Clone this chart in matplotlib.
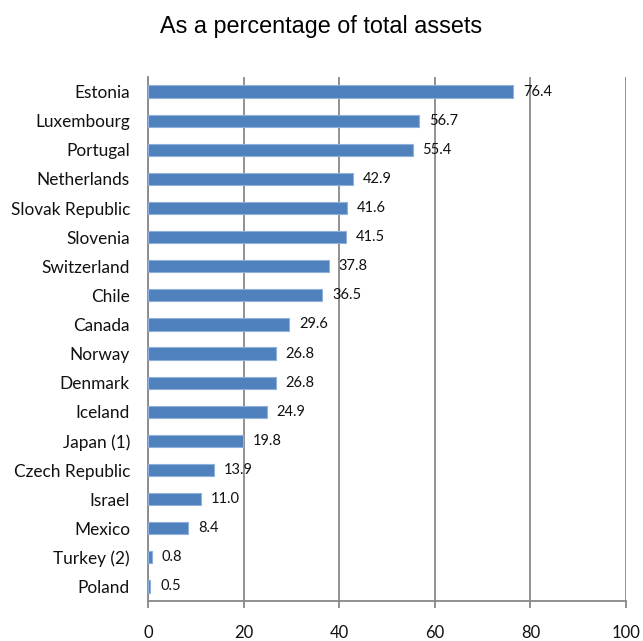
import matplotlib
matplotlib.use("Agg")
import matplotlib.pyplot as plt

countries = ["Estonia", "Luxembourg", "Portugal", "Netherlands", "Slovak Republic",
             "Slovenia", "Switzerland", "Chile", "Canada", "Norway", "Denmark",
             "Iceland", "Japan (1)", "Czech Republic", "Israel", "Mexico",
             "Turkey (2)", "Poland"]
values = [76.4, 56.7, 55.4, 42.9, 41.6, 41.5, 37.8, 36.5, 29.6, 26.8, 26.8,
          24.9, 19.8, 13.9, 11.0, 8.4, 0.8, 0.5]
xticks = [0, 20, 40, 60, 80, 100]
title = "As a percentage of total assets"

fig = plt.figure(figsize=(6.43, 6.41), dpi=100)
ax = fig.add_axes([148 / 643, 1 - 601 / 641, 478 / 643, 524 / 641])

pos = list(range(len(countries)))
ax.barh(pos, values, height=0.42, color="#4F81BD", edgecolor="#8FB0DA",
        linewidth=0.8, zorder=3)
ax.set_ylim(len(countries) - 0.5, -0.5)
ax.set_xlim(0, 100)

ax.set_yticks(pos)
ax.set_yticklabels(countries, fontfamily="Lato", fontsize=12.4, color="#111111")
ax.tick_params(axis="y", length=0, pad=13)

ax.set_xticks(xticks)
ax.set_xticklabels([str(t) for t in xticks], fontfamily="Lato", fontsize=12,
                   color="#111111")
ax.tick_params(axis="x", length=5, width=1.3, color="#888888", pad=12)

ax.grid(axis="x", color="#888888", linewidth=1.3, zorder=0)
ax.grid(axis="y", visible=False)
for side in ("top", "right"):
    ax.spines[side].set_visible(False)
ax.spines["left"].set_color("#888888")
ax.spines["left"].set_linewidth(1.3)
ax.spines["bottom"].set_color("#888888")
ax.spines["bottom"].set_linewidth(1.3)

for p, v in zip(pos, values):
    ax.annotate(f"{v:.1f}", xy=(v, p), xytext=(7, 0), textcoords="offset points",
                va="center", ha="left", fontfamily="Lato", fontsize=10.5,
                color="#111111", zorder=4)

fig.text(0.5, 1 - 27 / 641, title, ha="center", va="center",
         fontfamily="Liberation Sans", fontsize=16.8)

fig.savefig("out.png", dpi=100, facecolor="white")
